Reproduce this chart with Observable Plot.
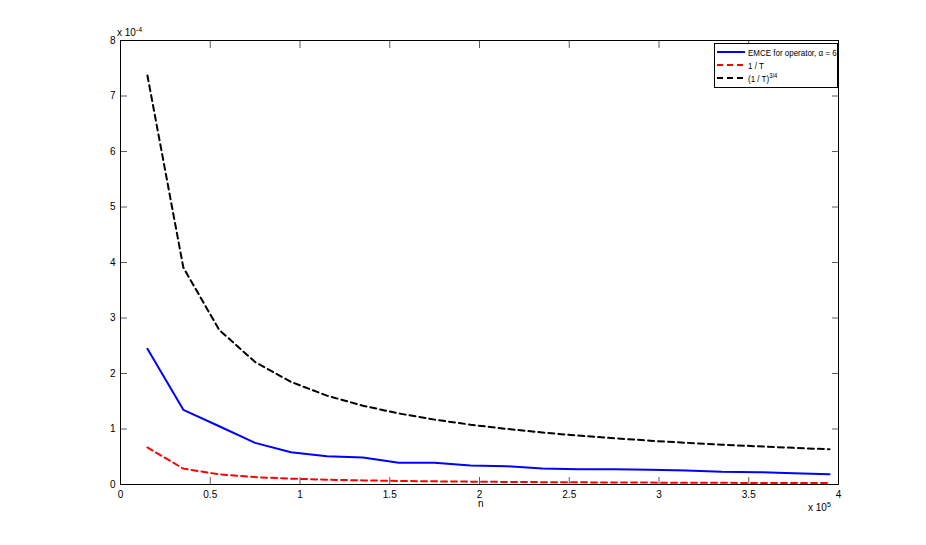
<!DOCTYPE html>
<html>
<head>
<meta charset="utf-8">
<script src="https://cdn.jsdelivr.net/npm/d3@7"></script>
<script src="https://cdn.jsdelivr.net/npm/@observablehq/plot@0.6"></script>
<style>
  html, body { margin: 0; padding: 0; background: white; }
  #wrap { position: relative; width: 926px; height: 545px; font-family: "Liberation Sans", Arial, Helvetica, sans-serif; font-size: 10px; color: #000; }
  .ov { position: absolute; white-space: nowrap; line-height: 1; }
  sup { font-size: 7px; vertical-align: 4px; line-height: 0; }
  #legend { position: absolute; left: 714px; top: 43px; width: 124px; height: 45px; border: 1px solid #000; background: #fff; box-sizing: border-box; font-size: 9.5px; }
  #legend .row { position: absolute; left: 2px; height: 12px; display: flex; align-items: center; white-space: nowrap; }
  #legend svg { margin-right: 3px; flex: none; }
  #legend span { display: inline-block; transform: scaleX(0.84); transform-origin: left center; }
</style>
</head>
<body>
<div id="wrap"></div>
<script>
// x in units of 10^5, y in units of 10^-4
const n = [0.15, 0.35, 0.55, 0.75, 0.95, 1.15, 1.35, 1.55, 1.75, 1.95, 2.15, 2.35, 2.55, 2.75, 2.95, 3.15, 3.35, 3.55, 3.75, 3.95];
const emce = [2.445, 1.346, 1.05, 0.75, 0.58, 0.51, 0.487, 0.39, 0.39, 0.342, 0.33, 0.288, 0.276, 0.275, 0.264, 0.252, 0.228, 0.222, 0.204, 0.186];
const invT = [0.667, 0.286, 0.182, 0.133, 0.105, 0.087, 0.074, 0.0645, 0.0571, 0.0513, 0.0465, 0.0426, 0.0392, 0.0364, 0.0339, 0.0317, 0.0299, 0.0282, 0.0267, 0.0253];
const invT34 = [7.37, 3.91, 2.785, 2.206, 1.848, 1.601, 1.420, 1.280, 1.169, 1.078, 1.002, 0.937, 0.881, 0.833, 0.790, 0.752, 0.718, 0.688, 0.660, 0.635];
const xTicks = [0, 0.5, 1, 1.5, 2, 2.5, 3, 3.5, 4];
const yTicks = [0, 1, 2, 3, 4, 5, 6, 7, 8];
const seriesNames = ["EMCE for operator, \u03b1 = 6", "1 / T", "(1 / T)"];
const seriesColors = ["#0000ff", "#ff0000", "#000000"];

const rows = (ys) => n.map((x, i) => ({x, y: ys[i]}));

const chart = Plot.plot({
  width: 926,
  height: 545,
  marginLeft: 120,
  marginRight: 88,
  marginTop: 40,
  marginBottom: 61,
  x: {domain: [0, 4]},
  y: {domain: [0, 8]},
  style: {fontFamily: "'Liberation Sans', Arial, Helvetica, sans-serif", fontSize: "10px", background: "white", color: "black", overflow: "visible"},
  marks: [
    Plot.axisX(xTicks, {anchor: "bottom", tickSize: 0, tickPadding: 6, tickFormat: d => String(d), label: null}),
    Plot.axisY(yTicks, {anchor: "left", tickSize: 0, tickPadding: 5, tickFormat: d => String(d), label: null}),
    Plot.axisX(xTicks, {anchor: "bottom", tickSize: -7, tickFormat: () => "", label: null, stroke: "#333", strokeWidth: 0.8}),
    Plot.axisX(xTicks, {anchor: "top", tickSize: -7, tickFormat: () => "", label: null, stroke: "#333", strokeWidth: 0.8}),
    Plot.axisY(yTicks, {anchor: "left", tickSize: -7, tickFormat: () => "", label: null, stroke: "#333", strokeWidth: 0.8}),
    Plot.axisY(yTicks, {anchor: "right", tickSize: -7, tickFormat: () => "", label: null, stroke: "#333", strokeWidth: 0.8}),
    Plot.line(rows(invT34), {x: "x", y: "y", stroke: seriesColors[2], strokeWidth: 2, strokeDasharray: "6,4"}),
    Plot.line(rows(invT), {x: "x", y: "y", stroke: seriesColors[1], strokeWidth: 2, strokeDasharray: "6,4"}),
    Plot.line(rows(emce), {x: "x", y: "y", stroke: seriesColors[0], strokeWidth: 2}),
    Plot.frame({stroke: "#000", strokeWidth: 1})
  ]
});

const wrap = document.getElementById("wrap");
wrap.appendChild(chart);

function ov(html, left, top) {
  const d = document.createElement("div");
  d.className = "ov";
  d.innerHTML = html;
  d.style.left = left + "px";
  d.style.top = top + "px";
  wrap.appendChild(d);
}
ov("x 10<sup>-4</sup>", 117, 28);
ov("x 10<sup>5</sup>", 808, 503);
ov("n", 478, 499);

const legend = document.createElement("div");
legend.id = "legend";
const dashes = [null, "6,4", "6,4"];
seriesNames.forEach((name, i) => {
  const r = document.createElement("div");
  r.className = "row";
  r.style.top = (2 + i * 13) + "px";
  const label = i === 2 ? name + "<sup>3/4</sup>" : name;
  r.innerHTML = `<svg width="28" height="6"><line x1="0" y1="3" x2="28" y2="3" stroke="${seriesColors[i]}" stroke-width="2" ${dashes[i] ? `stroke-dasharray="${dashes[i]}"` : ""}/></svg><span>${label}</span>`;
  legend.appendChild(r);
});
wrap.appendChild(legend);
</script>
</body>
</html>
